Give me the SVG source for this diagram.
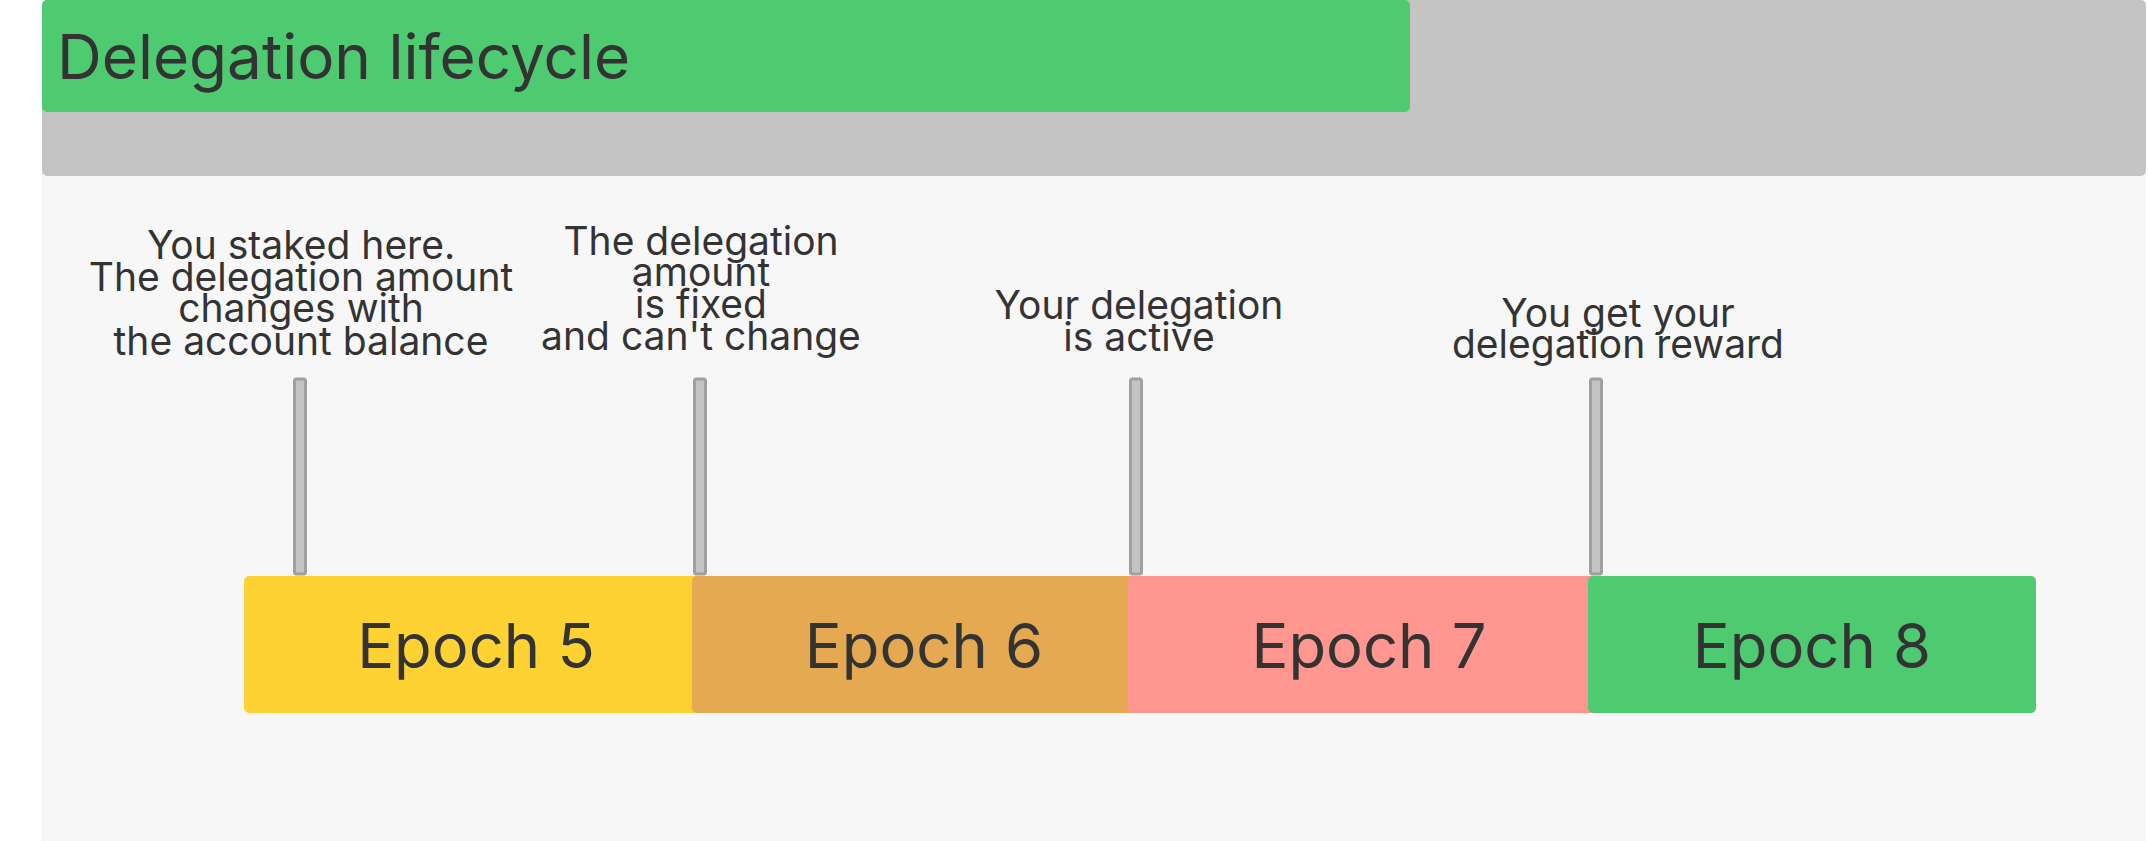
<svg xmlns="http://www.w3.org/2000/svg" width="2148" height="841" viewBox="0 0 2148 841">
<style>
text{font-family:Inter,"Noto Sans",sans-serif;fill:#333333}
.title{font-size:62px}
.epoch{font-size:61.5px;text-anchor:middle}
.lbl{font-size:39px;text-anchor:middle}
.bar{fill:#C4C4C4;stroke:#A0A0A0;stroke-width:3}
</style>
<g id="frame">
<rect x="42" y="176" width="2104" height="665" fill="#F7F7F7"/>
<rect x="42" y="0" width="2104" height="176" rx="5" fill="#C4C4C4"/>
</g>
<g id="title">
<rect x="42" y="0" width="1368" height="112" rx="5" fill="#4ECB71"/>
<text class="title" x="57" y="79">Delegation lifecycle</text>
</g>
<g id="epoch5">
<rect x="244" y="576" width="464" height="137" rx="5" fill="#FFD233"/>
<text class="epoch" x="476" y="668">Epoch 5</text>
</g>
<g id="epoch6">
<rect x="692" y="576" width="464" height="137" rx="5" fill="#E5A951"/>
<text class="epoch" x="924" y="668">Epoch 6</text>
</g>
<g id="epoch7">
<rect x="1128" y="576" width="482" height="137" rx="5" fill="#FF968F"/>
<text class="epoch" x="1369" y="668">Epoch 7</text>
</g>
<g id="epoch8">
<rect x="1588" y="576" width="448" height="137" rx="5" fill="#4ECB71"/>
<text class="epoch" x="1812" y="668">Epoch 8</text>
</g>
<g id="connectors">
<rect class="bar" x="294.5" y="379" width="11" height="195" rx="2"/>
<rect class="bar" x="694.5" y="379" width="11" height="195" rx="2"/>
<rect class="bar" x="1130.5" y="379" width="11" height="195" rx="2"/>
<rect class="bar" x="1590.5" y="379" width="11" height="195" rx="2"/>
</g>
<g id="label1">
<text class="lbl" x="301" y="259">You staked here.</text>
<text class="lbl" x="301" y="291">The delegation amount</text>
<text class="lbl" x="301" y="322">changes with</text>
<text class="lbl" x="301" y="355">the account balance</text>
</g>
<g id="label2">
<text class="lbl" x="701" y="255">The delegation</text>
<text class="lbl" x="701" y="286">amount</text>
<text class="lbl" x="701" y="318">is fixed</text>
<text class="lbl" x="701" y="350">and can't change</text>
</g>
<g id="label3">
<text class="lbl" x="1139" y="319">Your delegation</text>
<text class="lbl" x="1139" y="351">is active</text>
</g>
<g id="label4">
<text class="lbl" x="1618" y="327">You get your</text>
<text class="lbl" x="1618" y="358">delegation reward</text>
</g>
</svg>
